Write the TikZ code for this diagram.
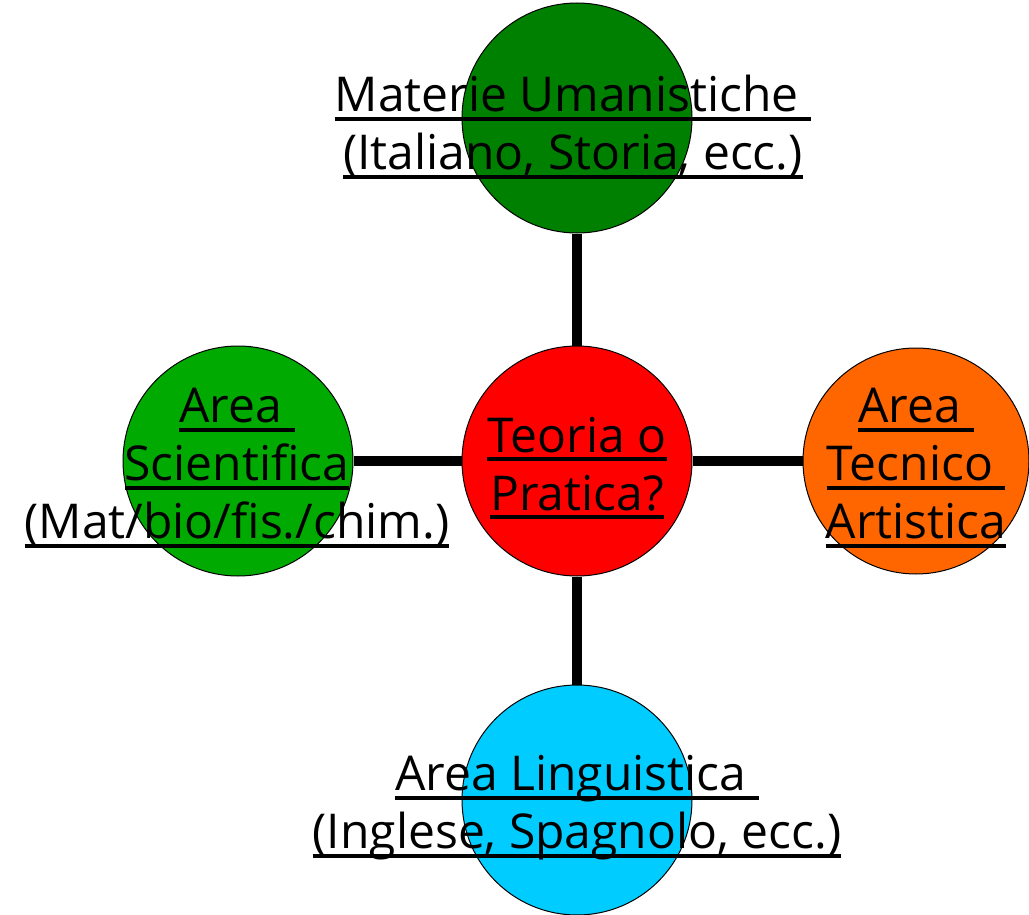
\documentclass[tikz,border=0pt]{standalone}
\usepackage{fontspec}
\setmainfont{Open Sans}
\definecolor{umagreen}{RGB}{0,128,0}
\definecolor{scigreen}{RGB}{0,170,0}
\definecolor{artorange}{RGB}{255,102,0}
\definecolor{lingcyan}{RGB}{0,204,255}
\newcommand\ulline[1]{\setbox0\hbox{#1}\rlap{\rule[-9pt]{\wd0}{4pt}}\box0}

\begin{document}
\begin{tikzpicture}[x=1pt,y=-1pt,
		area/.style={circle, draw=black, line width=1pt, minimum size=230pt, inner sep=0pt},
		link/.style={line width=10pt},
		lbl/.style={align=center, inner sep=0pt, font=\fontsize{48}{58}\selectfont}]
			%%%%% START %%%%%
			\useasboundingbox (0,0) rectangle (1029,915);
			
			\node[area, fill=red] (centro) at (577,461) {};
			\node[area, fill=umagreen] (uman) at (577,118) {};
			\node[area, fill=scigreen] (scien) at (238,461) {};
			\node[area, fill=artorange, minimum size=226pt] (tecn) at (916,461) {};
			\node[area, fill=lingcyan] (ling) at (577,800) {};
			
			\draw[link] (centro) -- (uman);
			\draw[link] (centro) -- (scien);
			\draw[link] (centro) -- (tecn);
			\draw[link] (centro) -- (ling);
			
			\node[lbl] (tCentro) at (577,468) {\ulline{Teoria o}\\\ulline{Pratica?}};
			\node[lbl] (tUman) at (573,127) {\ulline{Materie Umanistiche }\\\ulline{(Italiano, Storia, ecc.)}};
			\node[lbl] (tScien) at (237,468) {\ulline{Area }\\\ulline{Scientifica}\\\ulline{(Mat/bio/fis./chim.)}};
			\node[lbl] (tTecn) at (916,468) {\ulline{Area }\\\ulline{Tecnico }\\\ulline{Artistica}};
			\node[lbl] (tLing) at (577,808) {\ulline{Area Linguistica }\\\ulline{(Inglese, Spagnolo, ecc.)}};
			
			%%%%% END %%%%%
		\end{tikzpicture}
\end{document}
